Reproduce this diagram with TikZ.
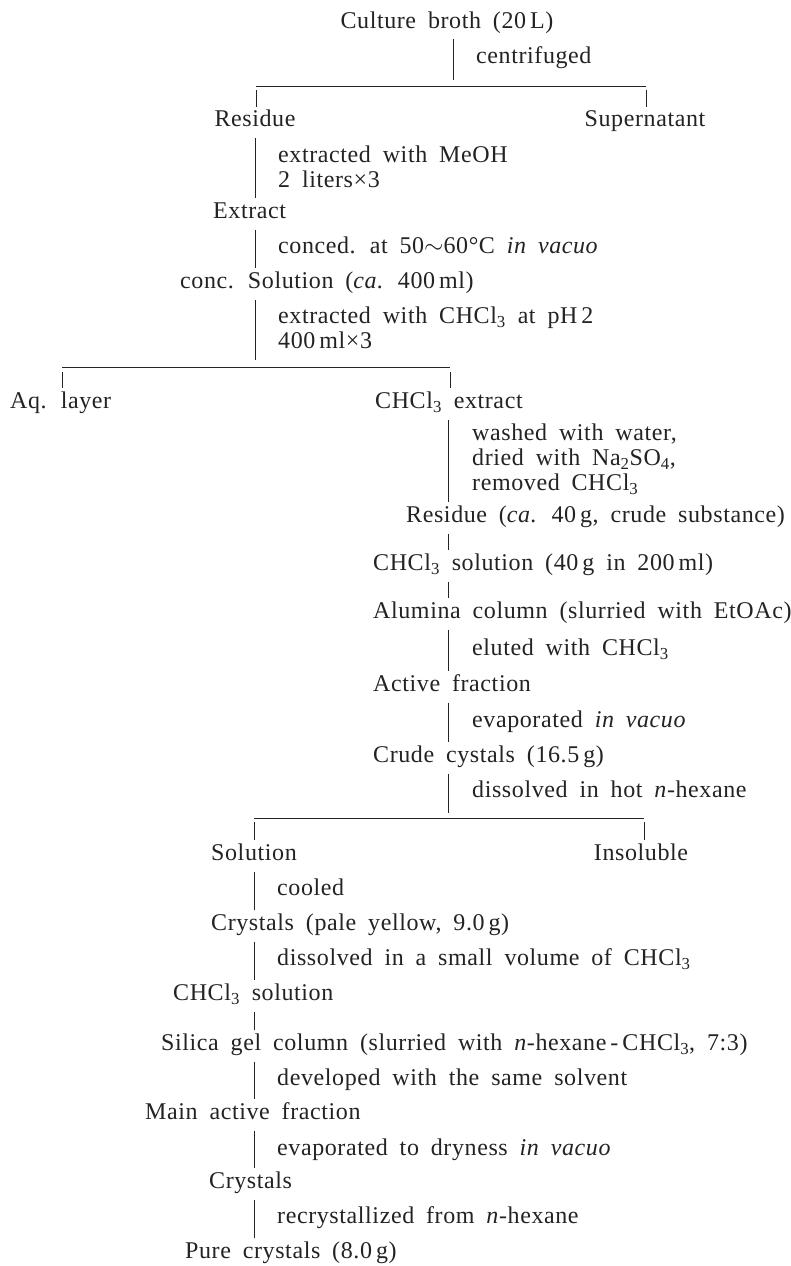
\documentclass[tikz,border=0pt]{standalone}
\usepackage{fontspec}
\setmainfont{Liberation Serif}[LetterSpace=2.5,WordSpace=1.8]
\definecolor{ink}{RGB}{35,35,35}
\newcommand{\mystrut}{\rule[-5pt]{0pt}{21pt}}
\tikzset{
  stage/.style={inner sep=0pt, text height=16pt, text depth=5pt, anchor=west, text=ink},
  note/.style={inner sep=0pt, anchor=west, align=left, text=ink},
  link/.style={draw=ink, line width=0.8pt, shorten <=6pt, shorten >=4pt},
  rulebar/.style={draw=ink, line width=0.8pt}
}
\begin{document}
\begin{tikzpicture}[x=1pt,y=1pt,font=\fontsize{24}{25}\selectfont]
\useasboundingbox (0,0) rectangle (791,-1266);
\fill[white] (0,0) rectangle (791,-1266);
% trunk x positions and branch rules
\coordinate (tr0) at (453,0);
\coordinate (tr1) at (255,0);
\coordinate (tr2) at (448,0);
\coordinate (tr3) at (254,0);
\coordinate (r1L) at (256,-86);
\coordinate (r1R) at (646,-86);
\coordinate (r2L) at (62,-367);
\coordinate (r2R) at (450,-367);
\coordinate (r3L) at (254,-818);
\coordinate (r3R) at (644,-818);
% nodes
\node[stage,anchor=center] (broth) at (447,-23) {Culture broth (20\,L)};
\node[note] (n1) at (476,-58) {\mystrut centrifuged};
\node[stage,anchor=center] (res1) at (255,-121) {Residue};
\node[stage,anchor=center] (sup) at (645,-121) {Supernatant};
\node[note] (n2) at (278,-169.5) {\mystrut extracted with MeOH\\\mystrut 2 liters×3};
\node[stage] (ext) at (213,-213) {Extract};
\node[note] (n3) at (278,-248) {\mystrut conced. at 50$\sim$60°C \textit{in vacuo}};
\node[stage] (conc) at (180,-283) {conc. Solution (\textit{ca.} 400\,ml)};
\node[note] (n4) at (278,-330.5) {\mystrut extracted with CHCl\textsubscript{3} at pH\,2\\\mystrut 400\,ml×3};
\node[stage] (aq) at (10,-403) {Aq. layer};
\node[stage] (cext) at (375,-403) {CHCl\textsubscript{3} extract};
\node[note] (n5) at (472,-460) {\mystrut washed with water,\\\mystrut dried with Na\textsubscript{2}SO\textsubscript{4},\\\mystrut removed CHCl\textsubscript{3}};
\node[stage] (res2) at (406,-517) {Residue (\textit{ca.} 40\,g, crude substance)};
\node[stage] (csol) at (373,-565) {CHCl\textsubscript{3} solution (40\,g in 200\,ml)};
\node[stage] (alu) at (373,-613) {Alumina column (slurried with EtOAc)};
\node[note] (n6) at (472,-650) {\mystrut eluted with CHCl\textsubscript{3}};
\node[stage] (act) at (373,-686) {Active fraction};
\node[note] (n7) at (472,-722) {\mystrut evaporated \textit{in vacuo}};
\node[stage] (crude) at (373,-757) {Crude cystals (16.5\,g)};
\node[note] (n8) at (472,-792) {\mystrut dissolved in hot \textit{n}-hexane};
\node[stage,anchor=center] (soln) at (254,-855) {Solution};
\node[stage,anchor=center] (insol) at (641,-855) {Insoluble};
\node[note] (n9) at (277,-890) {\mystrut cooled};
\node[stage] (cry1) at (211,-925) {Crystals (pale yellow, 9.0\,g)};
\node[note] (n10) at (277,-960) {\mystrut dissolved in a small volume of CHCl\textsubscript{3}};
\node[stage] (csol2) at (173,-995) {CHCl\textsubscript{3} solution};
\node[stage] (sil) at (161,-1045) {Silica gel column (slurried with \textit{n}-hexane\,-\,CHCl\textsubscript{3}, 7:3)};
\node[note] (n11) at (277,-1080) {\mystrut developed with the same solvent};
\node[stage] (main) at (145,-1114) {Main active fraction};
\node[note] (n12) at (277,-1150) {\mystrut evaporated to dryness \textit{in vacuo}};
\node[stage] (cry2) at (209,-1183) {Crystals};
\node[note] (n13) at (277,-1218) {\mystrut recrystallized from \textit{n}-hexane};
\node[stage] (pure) at (185,-1253) {Pure crystals (8.0\,g)};
% connectors: first split
\draw[link, shorten <=5.5pt, shorten >=6pt] (tr0 |- broth.south) -- (tr0 |- r1L);
\draw[rulebar] (r1L) -- (r1R);
\draw[link, shorten <=4pt, shorten >=3.5pt] (r1L) -- (r1L |- res1.north);
\draw[link, shorten <=4pt, shorten >=3.5pt] (r1R) -- (r1R |- sup.north);
\draw[link] (tr1 |- res1.south) -- (tr1 |- ext.north);
\draw[link] (tr1 |- ext.south) -- (tr1 |- conc.north);
\draw[link, shorten >=7pt] (tr1 |- conc.south) -- (tr1 |- r2L);
% second split
\draw[rulebar] (r2L) -- (r2R);
\draw[link, shorten <=5pt, shorten >=4pt] (r2L) -- (r2L |- aq.north);
\draw[link, shorten <=5pt, shorten >=4pt] (r2R) -- (r2R |- cext.north);
\draw[link] (tr2 |- cext.south) -- (tr2 |- res2.north);
\draw[link] (tr2 |- res2.south) -- (tr2 |- csol.north);
\draw[link] (tr2 |- csol.south) -- (tr2 |- alu.north);
\draw[link] (tr2 |- alu.south) -- (tr2 |- act.north);
\draw[link] (tr2 |- act.south) -- (tr2 |- crude.north);
\draw[link, shorten >=5pt] (tr2 |- crude.south) -- (tr2 |- r3L);
% third split
\draw[rulebar] (r3L) -- (r3R);
\draw[link, shorten <=4pt, shorten >=4.5pt] (r3L) -- (r3L |- soln.north);
\draw[link, shorten <=4pt, shorten >=4.5pt] (r3R) -- (r3R |- insol.north);
\draw[link] (tr3 |- soln.south) -- (tr3 |- cry1.north);
\draw[link] (tr3 |- cry1.south) -- (tr3 |- csol2.north);
\draw[link] (tr3 |- csol2.south) -- (tr3 |- sil.north);
\draw[link] (tr3 |- sil.south) -- (tr3 |- main.north);
\draw[link] (tr3 |- main.south) -- (tr3 |- cry2.north);
\draw[link] (tr3 |- cry2.south) -- (tr3 |- pure.north);
\end{tikzpicture}
\end{document}
